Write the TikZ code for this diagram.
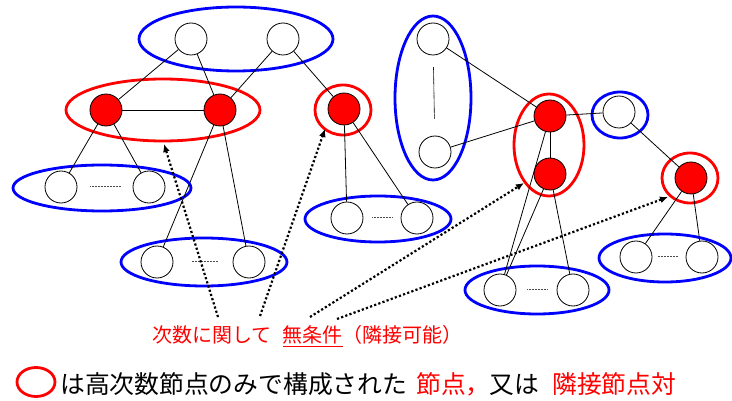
\documentclass[tikz,border=0pt]{standalone}
\usepackage{fontspec}
\newfontfamily\jp{Noto Sans CJK JP}
\usetikzlibrary{shapes.geometric,arrows.meta,calc}
\begin{document}
\begin{tikzpicture}[x=1pt,y=-1pt,
  v/.style={circle,draw,line width=0.8pt,minimum size=32pt,inner sep=0pt,fill=white},
  hv/.style={v,fill=red},
  bg/.style={ellipse,draw=blue,line width=2.8pt,inner sep=0pt},
  rg/.style={ellipse,draw=red,line width=2.8pt,inner sep=0pt},
  ed/.style={line width=0.8pt},
  sep/.style={black!70,line width=1pt,dash pattern=on 1pt off 0.5pt},
  arr/.style={line width=2.2pt,dash pattern=on 2.2pt off 2.2pt,-{Latex[length=8pt,width=7pt]}},
  lbl/.style={anchor=base west,inner sep=0pt},
  small/.style={font=\jp\fontsize{20}{21}\selectfont},
  big/.style={font=\jp\fontsize{24.8}{26}\selectfont}
]
\useasboundingbox (0,0) rectangle (732,401);
% group outlines
\node[bg,minimum width=194pt,minimum height=64pt] (G1) at (236,39) {};
\node[rg,minimum width=194pt,minimum height=62pt] (R1) at (163,110) {};
\node[rg,minimum width=56pt,minimum height=50pt] (R2) at (343,110) {};
\node[bg,minimum width=178pt,minimum height=46pt] (G2) at (102,188) {};
\node[bg,minimum width=166pt,minimum height=48pt] (G3) at (204,262) {};
\node[bg,minimum width=146pt,minimum height=46pt] (G4) at (378,219) {};
\node[bg,minimum width=76pt,minimum height=164pt] (G5) at (433,98) {};
\node[rg,minimum width=70pt,minimum height=102pt] (R3) at (549,145) {};
\node[bg,minimum width=56pt,minimum height=46pt] (G6) at (620,115) {};
\node[rg,minimum width=56pt,minimum height=50pt] (R4) at (690,178) {};
\node[bg,minimum width=144pt,minimum height=48pt] (G7) at (537,290) {};
\node[bg,minimum width=132pt,minimum height=48pt] (G8) at (665,258) {};
% vertices
\node[v] (t1) at (191,39) {};
\node[v] (t2) at (283,39) {};
\node[hv] (r1) at (106,110) {};
\node[hv] (r2) at (220,110) {};
\node[hv] (r3) at (344,109) {};
\node[v] (b1) at (61,187) {};
\node[v] (b2) at (149,187) {};
\node[v] (b3) at (157,262) {};
\node[v] (b4) at (249,262) {};
\node[v] (b5) at (347,218) {};
\node[v] (b6) at (417,218) {};
\node[v] (v1) at (433,39) {};
\node[v] (v2) at (435,152) {};
\node[hv] (rA) at (550,116) {};
\node[hv] (rB) at (550,174) {};
\node[v] (s1) at (619,112) {};
\node[hv] (rC) at (691,178) {};
\node[v] (b7) at (500,290) {};
\node[v] (b8) at (573,290) {};
\node[v] (b9) at (636,257) {};
\node[v] (b10) at (702,257) {};
% edges
\draw[ed] (t1) -- (r1);
\draw[ed] (t1) -- (r2);
\draw[ed] (t2) -- (r2);
\draw[ed] (t2) -- (r3);
\draw[ed] (r1) -- (r2);
\draw[ed] (r1) -- (b1);
\draw[ed] (r1) -- (b2);
\draw[ed] (r2) -- (b3);
\draw[ed] (r2) -- (b4);
\draw[ed] (r3) -- (b5);
\draw[ed] (r3) -- (b6);
\draw[ed] (v1) -- (rA);
\draw[ed] (v2) -- (rA);
\draw[ed] (rA) -- (s1);
\draw[ed] (s1) -- (rC);
\draw[ed] (rA) -- (rB);
\draw[ed] (rA) -- (b7);
\draw[ed] (rB) -- (b7);
\draw[ed] (rB) -- (b8);
\draw[ed] (rC) -- (b9);
\draw[ed] (rC) -- (b10);
% ellipsis marks
\draw[sep] ($(b1)!0.33!(b2)$) -- ($(b1)!0.68!(b2)$);
\draw[sep] ($(b3)!0.38!(b4)$) -- ($(b3)!0.66!(b4)$);
\draw[sep] ($(b5)!0.36!(b6)$) -- ($(b5)!0.64!(b6)$);
\draw[sep] ($(b7)!0.37!(b8)$) -- ($(b7)!0.64!(b8)$);
\draw[sep] ($(b9)!0.33!(b10)$) -- ($(b9)!0.64!(b10)$);
\draw[black,line width=0.6pt,dash pattern=on 1pt off 0.3pt] ($(v1)!0.25!(v2)$) -- ($(v1)!0.71!(v2)$);
% dotted arrows
\coordinate (a1s) at (218,317); \coordinate (a1e) at (164,144);
\coordinate (a2s) at (260,316); \coordinate (a2e) at (325,129);
\coordinate (a3s) at (310,317); \coordinate (a3e) at (524,183);
\coordinate (a4s) at (337,319); \coordinate (a4e) at (668,197);
\draw[arr] (a1s) -- (a1e);
\draw[arr] (a2s) -- (a2e);
\draw[arr] (a3s) -- (a3e);
\draw[arr] (a4s) -- (a4e);
% label
\node[lbl,text=red,small] (L1) at (152,342) {次数に関して};
\node[lbl,text=red,small] (L2) at (282,342) {無条件（隣接可能）};
\draw[red,line width=1.6pt] (283,346.5) -- (343,346.5);
% legend
\node[rg,minimum width=38pt,minimum height=29pt] (leg) at (36,382) {};
\node[lbl,text=black,big] (T1) at (60,393) {は高次数節点のみで構成された};
\node[lbl,text=red,big] (T2) at (416,393) {節点，};
\node[lbl,text=black,big] (T3) at (489,393) {又は};
\node[lbl,text=red,big] (T4) at (552,393) {隣接節点対};
\end{tikzpicture}
\end{document}
